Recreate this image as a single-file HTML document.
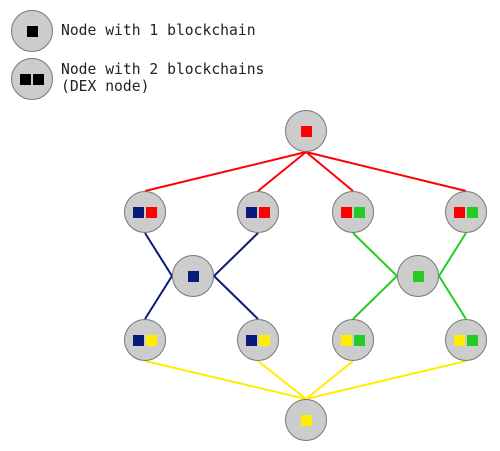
<!DOCTYPE html>
<html><head><style>html,body{margin:0;padding:0;background:#fff}</style></head>
<body>
<svg width="500" height="451" xmlns="http://www.w3.org/2000/svg" style="display:block">
<g stroke-width="2" fill="none">
<g stroke="#ff0000">
<line x1="306" y1="152" x2="145" y2="191"/>
<line x1="306" y1="152" x2="258" y2="191"/>
<line x1="306" y1="152" x2="353" y2="191"/>
<line x1="306" y1="152" x2="466" y2="191"/>
</g>
<g stroke="#0a1a7a">
<line x1="145" y1="233" x2="172" y2="276"/>
<line x1="258" y1="233" x2="214" y2="276"/>
<line x1="145" y1="319" x2="172" y2="276"/>
<line x1="258" y1="319" x2="214" y2="276"/>
</g>
<g stroke="#22cc22">
<line x1="353" y1="233" x2="397" y2="276"/>
<line x1="466" y1="233" x2="439" y2="276"/>
<line x1="353" y1="319" x2="397" y2="276"/>
<line x1="466" y1="319" x2="439" y2="276"/>
</g>
<g stroke="#ffee00">
<line x1="145" y1="361" x2="306" y2="399"/>
<line x1="258" y1="361" x2="306" y2="399"/>
<line x1="353" y1="361" x2="306" y2="399"/>
<line x1="466" y1="361" x2="306" y2="399"/>
</g>
</g>
<g fill="#cccccc" stroke="#777" stroke-width="1">
<circle cx="32" cy="31" r="20.5"/>
<circle cx="32" cy="79" r="20.5"/>
<circle cx="306" cy="131" r="20.5"/>
<circle cx="145" cy="212" r="20.5"/>
<circle cx="258" cy="212" r="20.5"/>
<circle cx="353" cy="212" r="20.5"/>
<circle cx="466" cy="212" r="20.5"/>
<circle cx="193" cy="276" r="20.5"/>
<circle cx="418" cy="276" r="20.5"/>
<circle cx="145" cy="340" r="20.5"/>
<circle cx="258" cy="340" r="20.5"/>
<circle cx="353" cy="340" r="20.5"/>
<circle cx="466" cy="340" r="20.5"/>
<circle cx="306" cy="420" r="20.5"/>
</g>
<g>
<rect x="27" y="26" width="11" height="11" fill="#000"/>
<rect x="20" y="74" width="11" height="11" fill="#000"/>
<rect x="33" y="74" width="11" height="11" fill="#000"/>
<rect x="301" y="126" width="11" height="11" fill="#ff0000"/>
<rect x="133" y="207" width="11" height="11" fill="#0a1a7a"/><rect x="146" y="207" width="11" height="11" fill="#ff0000"/>
<rect x="246" y="207" width="11" height="11" fill="#0a1a7a"/><rect x="259" y="207" width="11" height="11" fill="#ff0000"/>
<rect x="341" y="207" width="11" height="11" fill="#ff0000"/><rect x="354" y="207" width="11" height="11" fill="#22cc22"/>
<rect x="454" y="207" width="11" height="11" fill="#ff0000"/><rect x="467" y="207" width="11" height="11" fill="#22cc22"/>
<rect x="188" y="271" width="11" height="11" fill="#0a1a7a"/>
<rect x="413" y="271" width="11" height="11" fill="#22cc22"/>
<rect x="133" y="335" width="11" height="11" fill="#0a1a7a"/><rect x="146" y="335" width="11" height="11" fill="#ffee00"/>
<rect x="246" y="335" width="11" height="11" fill="#0a1a7a"/><rect x="259" y="335" width="11" height="11" fill="#ffee00"/>
<rect x="341" y="335" width="11" height="11" fill="#ffee00"/><rect x="354" y="335" width="11" height="11" fill="#22cc22"/>
<rect x="454" y="335" width="11" height="11" fill="#ffee00"/><rect x="467" y="335" width="11" height="11" fill="#22cc22"/>
<rect x="301" y="415" width="11" height="11" fill="#ffee00"/>
</g>
<g font-family="'DejaVu Sans Mono','Liberation Mono',monospace" font-size="14.7" fill="#222">
<text x="61" y="35">Node with 1 blockchain</text>
<text x="61" y="74">Node with 2 blockchains</text>
<text x="61" y="91">(DEX node)</text>
</g>
</svg>
</body></html>
